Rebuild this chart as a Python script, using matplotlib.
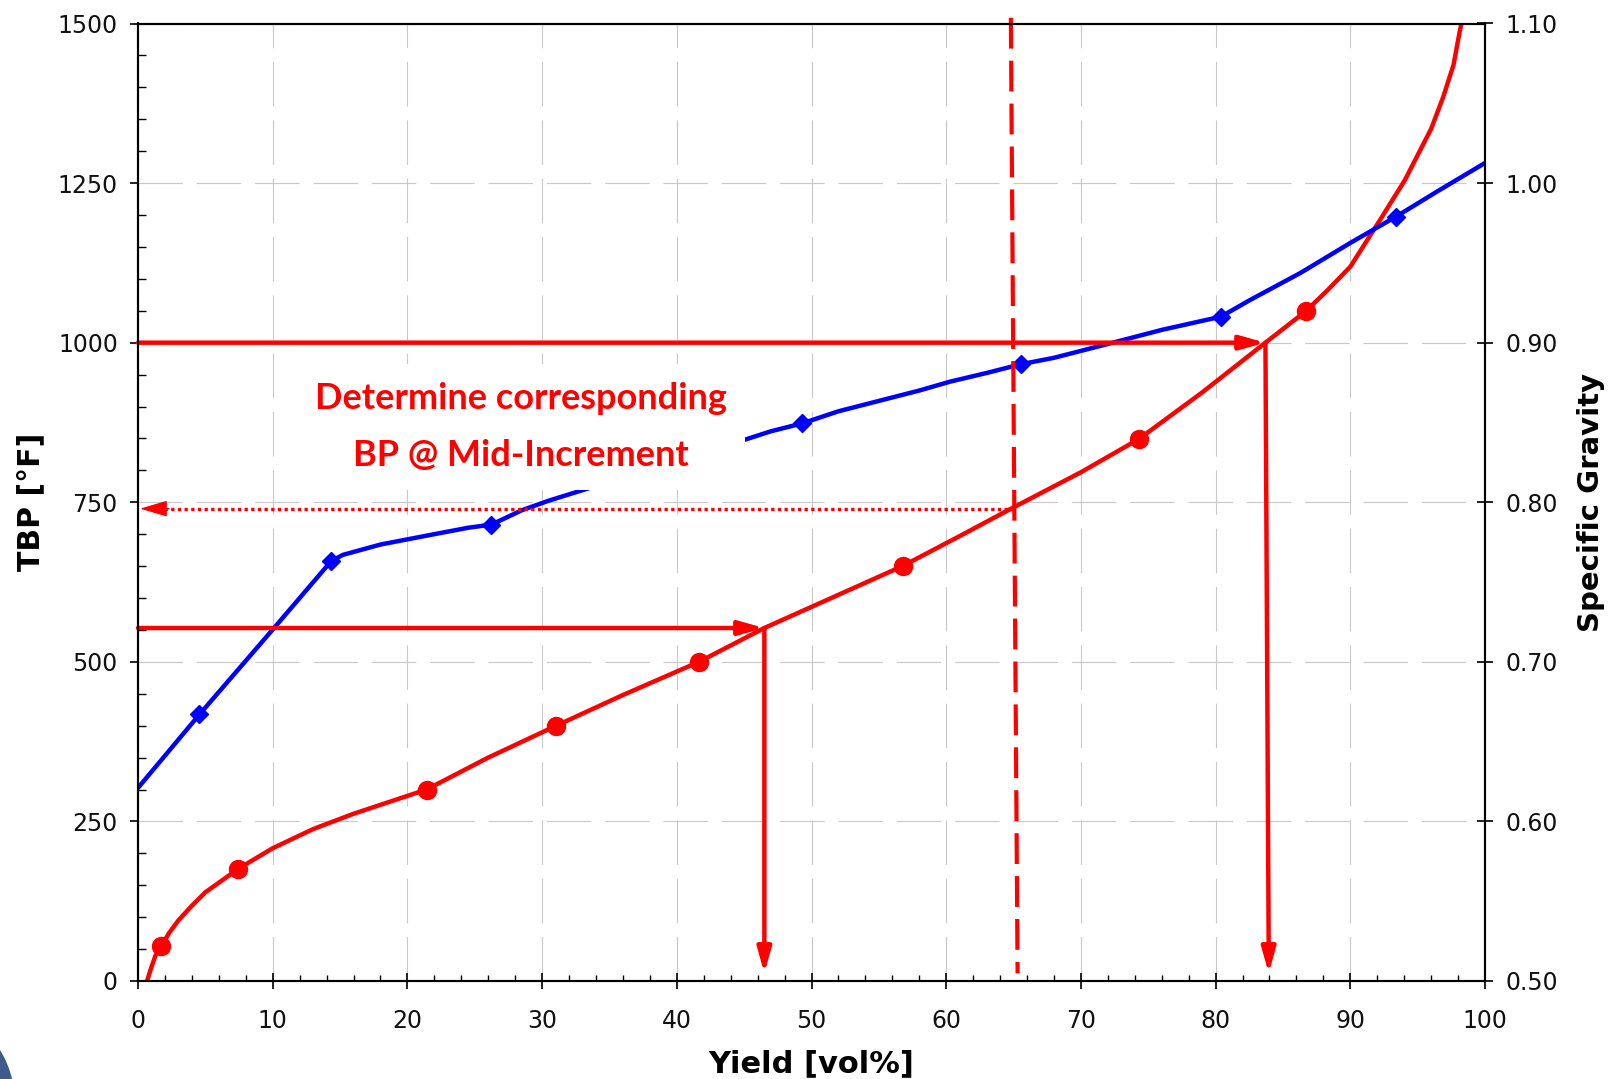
import matplotlib
matplotlib.use("Agg")
import matplotlib.pyplot as plt
from matplotlib.ticker import MultipleLocator, FormatStrFormatter
from matplotlib.patches import Circle
from matplotlib.transforms import IdentityTransform

# ---------------- data ----------------
# TBP curve (red): yield [vol%] vs temperature [F]
tbp_yield = [0.67, 1.0, 1.3, 1.74, 2.3, 3.0, 4.0, 5.0, 6.2, 7.46, 10.0, 13.0, 16.0,
             19.0, 21.43, 26.0, 31.05, 36.0, 41.65, 46.5, 56.76, 61.0, 65.0, 70.0,
             74.3, 79.0, 83.7, 86.68, 88.3, 90.0, 92.2, 94.06, 96.0, 96.9, 97.66,
             98.1, 98.4]
tbp_temp = [0, 22, 40, 55, 75, 95, 118, 139, 157, 176, 208, 238, 262,
            283, 300, 350, 400, 448, 500, 553, 650, 697, 742, 797,
            849, 922, 1000, 1049, 1082, 1119, 1192, 1255, 1335, 1385, 1435,
            1485, 1515]
tbp_pts_yield = [1.74, 7.46, 21.43, 31.05, 41.65, 56.76, 74.3, 86.68]
tbp_pts_temp = [55, 176, 300, 400, 500, 650, 849, 1049]

# Specific gravity curve (blue)
sg_yield = [0.0, 4.56, 10.06, 14.33, 15.2, 18.0, 22.0, 24.5, 26.24, 28.5, 30.5, 32.4,
            45.2, 47.0, 49.3, 52.0, 55.0, 58.0, 60.3, 63.0, 65.55, 68.0, 72.65,
            76.0, 80.4, 82.55, 86.3, 90.0, 93.4, 96.5, 100.0]
sg_value = [0.621, 0.667, 0.7208, 0.763, 0.767, 0.7735, 0.780, 0.784, 0.786, 0.795,
            0.801, 0.806, 0.8396, 0.8445, 0.8494, 0.857, 0.8635, 0.870, 0.8756,
            0.881, 0.8865, 0.8905, 0.9006, 0.908, 0.9163, 0.9267, 0.9437, 0.9625,
            0.979, 0.995, 1.0126]
sg_pts_yield = [4.56, 14.33, 26.24, 49.3, 65.55, 80.4, 93.4]
sg_pts_value = [0.667, 0.763, 0.786, 0.8494, 0.8865, 0.9163, 0.979]

# construction lines
cut_lo_temp, cut_lo_yield = 553, 46.5
cut_hi_temp, cut_hi_yield_top, cut_hi_yield_bot = 1000, 83.7, 83.95
mid_yield_top, mid_yield_bot = 64.8, 65.3
mid_temp = 740
line_top_temp, arrow_bottom_temp = 1509, 12

x_ticks = list(range(0, 101, 10))
tbp_ticks = [0, 250, 500, 750, 1000, 1250, 1500]
sg_ticks = [0.50, 0.60, 0.70, 0.80, 0.90, 1.00, 1.10]

note = "Determine corresponding\nBP @ Mid-Increment"

RED = "#FF0000"
BLUE = "#0000FF"

# ---------------- figure ----------------
fig = plt.figure(figsize=(16.12, 10.79), dpi=100)
ax = fig.add_axes([138 / 1612, 1 - 981 / 1079, 1347 / 1612, 957.5 / 1079])
ax2 = ax.twinx()

ax.set_xlim(0, 100)
ax.set_ylim(0, 1500)
ax2.set_ylim(0.5, 1.1)

ax.set_xticks(x_ticks)
ax.set_yticks(tbp_ticks)
ax2.set_yticks(sg_ticks)
ax2.yaxis.set_major_formatter(FormatStrFormatter("%.2f"))
ax.xaxis.set_minor_locator(MultipleLocator(2))
ax.yaxis.set_minor_locator(MultipleLocator(50))

for a in (ax, ax2):
    for s in a.spines.values():
        s.set_linewidth(1.5)
        s.set_color("black")

ax.tick_params(axis="x", which="major", direction="inout", length=12, width=1.3,
               pad=14.5, labelsize=17, colors="#111111")
ax.tick_params(axis="x", which="minor", direction="in", length=4.5, width=1.0)
ax.tick_params(axis="y", which="major", direction="out", length=6, width=1.3,
               pad=8.5, labelsize=17, colors="#111111")
ax.tick_params(axis="y", which="minor", direction="in", length=5.5, width=1.0)
ax2.tick_params(axis="y", which="major", direction="inout", length=12, width=1.3,
                pad=8.5, labelsize=17, colors="#111111")

ax.grid(True, which="major", color="#c8c8c8", linewidth=0.8,
        linestyle=(0, (40, 12.5)))
ax.set_axisbelow(True)

ax.set_xlabel("Yield [vol%]", fontsize=22, fontweight="bold", va="center")
ax.xaxis.set_label_coords(0.5, (981 - 1064) / 957.5)
ax.set_ylabel("TBP [°F]", fontsize=21.5, fontweight="bold", va="center")
ax.yaxis.set_label_coords((31 - 138) / 1347, 0.5)
ax2.set_ylabel("Specific Gravity", fontsize=21, fontweight="bold", va="center")
ax2.yaxis.set_label_coords((1591 - 138) / 1347, 0.5)

sg_tr = ax2.transData

# curves
ax.plot(tbp_yield, tbp_temp, color=RED, lw=3.2, zorder=3, solid_joinstyle="round")
ax.plot(tbp_pts_yield, tbp_pts_temp, "o", color=RED, ms=13, zorder=4)
ax.plot(sg_yield, sg_value, color=BLUE, lw=3.2, zorder=3, transform=sg_tr,
        solid_joinstyle="round")
ax.plot(sg_pts_yield, sg_pts_value, "D", color=BLUE, ms=9, zorder=4, transform=sg_tr)

# note with white mask
ax.text(28.45, 868, note, ha="center", va="center", fontsize=26,
        fontfamily="Lato", fontweight="bold", color=RED, linespacing=1.9,
        zorder=5, bbox=dict(boxstyle="square,pad=0.5", facecolor="white",
                            edgecolor="none"))

# construction arrows
head = "-|>,head_length=1.5,head_width=0.42"
arr = dict(arrowstyle=head, color=RED, lw=3.2, shrinkA=0, shrinkB=0)
ax.annotate("", xy=(cut_lo_yield, cut_lo_temp), xytext=(0, cut_lo_temp),
            arrowprops=arr, zorder=6)
ax.annotate("", xy=(cut_lo_yield, arrow_bottom_temp), xytext=(cut_lo_yield, cut_lo_temp),
            arrowprops=arr, zorder=6)
ax.annotate("", xy=(cut_hi_yield_top, cut_hi_temp), xytext=(0, cut_hi_temp),
            arrowprops=arr, zorder=6)
ax.annotate("", xy=(cut_hi_yield_bot, arrow_bottom_temp),
            xytext=(cut_hi_yield_top, cut_hi_temp), arrowprops=arr, zorder=6)

# mid-increment dashed vertical
ax.plot([mid_yield_top, mid_yield_bot], [line_top_temp, arrow_bottom_temp], color=RED,
        lw=3.0, linestyle=(0, (7.4, 2.9)), zorder=6, clip_on=False)
# dotted horizontal arrow to axis
ax.plot([mid_yield_top + 0.2, 1.6], [mid_temp, mid_temp], color=RED, lw=2.4,
        linestyle=(0, (1, 1)), zorder=6)
ax.annotate("", xy=(0.15, mid_temp), xytext=(2.3, mid_temp),
            arrowprops=dict(arrowstyle="-|>,head_length=1.7,head_width=0.5",
                            color=RED, lw=1.0, shrinkA=0, shrinkB=0), zorder=6)

# logo fragment in the lower-left corner
fig.add_artist(Circle((-81, -21.5), 95.5, transform=IdentityTransform(),
                      facecolor="#3f5a8c", edgecolor="none", zorder=0))

fig.savefig("out.png", dpi=100)
